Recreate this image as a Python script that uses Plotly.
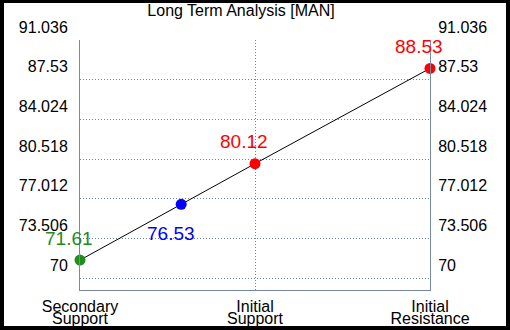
import plotly.graph_objects as go

# ---- data ----
title_text = "Long Term Analysis [MAN]"
level_names = ["Secondary Support", "Current", "Initial Support", "Initial Resistance"]
level_values = [71.61, 76.53, 80.12, 88.53]
level_colors = ["#228B22", "#0000FF", "#FF0000", "#FF0000"]
category_pos = [0, 2, 4]
category_line1 = ["Secondary", "Initial", "Initial"]
category_line2 = ["Support", "Support", "Resistance"]
y_tick_values = [70, 73.506, 77.012, 80.518, 84.024, 87.53, 91.036]
y_tick_labels = ["70", "73.506", "77.012", "80.518", "84.024", "87.53", "91.036"]

# current price placed between secondary and initial support by value
cur_x = category_pos[0] + (category_pos[1] - category_pos[0]) * (
    (level_values[1] - level_values[0]) / (level_values[2] - level_values[0]))
xs = [category_pos[0], cur_x, category_pos[1], category_pos[2]]

FONT = "Arial, Liberation Sans, sans-serif"
AXIS_COLOR = "#7689a6"
GRID_COLOR = "#6f84a2"
GRID_DASH = "1px,2px"

fig = go.Figure()
fig.add_trace(go.Scatter(
    x=xs, y=level_values, mode="lines+markers",
    line=dict(color="black", width=1),
    marker=dict(size=11, color=level_colors),
    cliponaxis=False, showlegend=False, hoverinfo="skip",
))
# invisible trace to activate secondary axes
fig.add_trace(go.Scatter(x=[category_pos[0]], y=[y_tick_values[0]], xaxis="x2", yaxis="y2",
                         mode="markers", marker=dict(opacity=0), showlegend=False, hoverinfo="skip"))

# value labels
placement = ["above", "below", "above", "above"]
for x, v, c, p in zip(xs, level_values, level_colors, placement):
    fig.add_annotation(
        x=x, y=v, text=f"{v:.2f}", showarrow=False,
        font=dict(family=FONT, size=19, color=c),
        xanchor="center", yanchor="middle",
        xshift=-11 if p == "above" else -10,
        yshift=22 if p == "above" else -29,
    )

y_range = [68.97, 91.036]
x_range = [0, 4]

fig.update_layout(
    width=510, height=330,
    margin=dict(l=80, r=80, t=40, b=40, autoexpand=False),
    paper_bgcolor="black", plot_bgcolor="white",
    font=dict(family=FONT, size=16, color="black"),
    title=dict(text=title_text, x=(241 - 80) / 350, xref="paper", xanchor="center",
               y=1 - 10 / 330, yref="container", yanchor="middle", automargin=False,
               font=dict(family=FONT, size=16, color="black")),
    xaxis=dict(range=x_range, tickmode="array", tickvals=category_pos, ticktext=category_line1,
               showgrid=True, gridcolor=GRID_COLOR, griddash=GRID_DASH, gridwidth=1,
               showline=True, linecolor=AXIS_COLOR, linewidth=1, zeroline=False,
               automargin=False,
               ticks="", ticklabelstandoff=2, tickfont=dict(size=16, color="black")),
    xaxis2=dict(range=x_range, overlaying="x", anchor="y", side="bottom",
                tickmode="array", tickvals=category_pos, ticktext=category_line2,
                showgrid=False, showline=False, zeroline=False, ticks="", automargin=False,
                ticklabelstandoff=17, tickfont=dict(size=16, color="black")),
    yaxis=dict(range=y_range, tickmode="array", tickvals=y_tick_values, ticktext=y_tick_labels,
               showgrid=True, gridcolor=GRID_COLOR, griddash=GRID_DASH, gridwidth=1,
               showline=True, linecolor=AXIS_COLOR, linewidth=1, zeroline=False,
               automargin=False,
               ticks="", ticklabelstandoff=8, ticklabelshift=-13,
               tickfont=dict(size=16, color="black")),
    yaxis2=dict(range=y_range, overlaying="y", anchor="x", side="right",
                tickmode="array", tickvals=y_tick_values, ticktext=y_tick_labels,
                showgrid=False, showline=True, linecolor=AXIS_COLOR, linewidth=1, zeroline=False,
                automargin=False,
                ticks="", ticklabelstandoff=4, ticklabelshift=-13,
                tickfont=dict(size=16, color="black")),
    shapes=[dict(type="rect", xref="paper", yref="paper", layer="below",
                 x0=(4 - 80) / 350, x1=(506 - 80) / 350,
                 y0=(290 - 326) / 250, y1=(290 - 3) / 250,
                 fillcolor="white", line=dict(width=0))],
)

fig.write_html("out.html", config={"displayModeBar": False},
               post_script="document.body.style.margin='0';document.body.style.overflow='hidden';")
